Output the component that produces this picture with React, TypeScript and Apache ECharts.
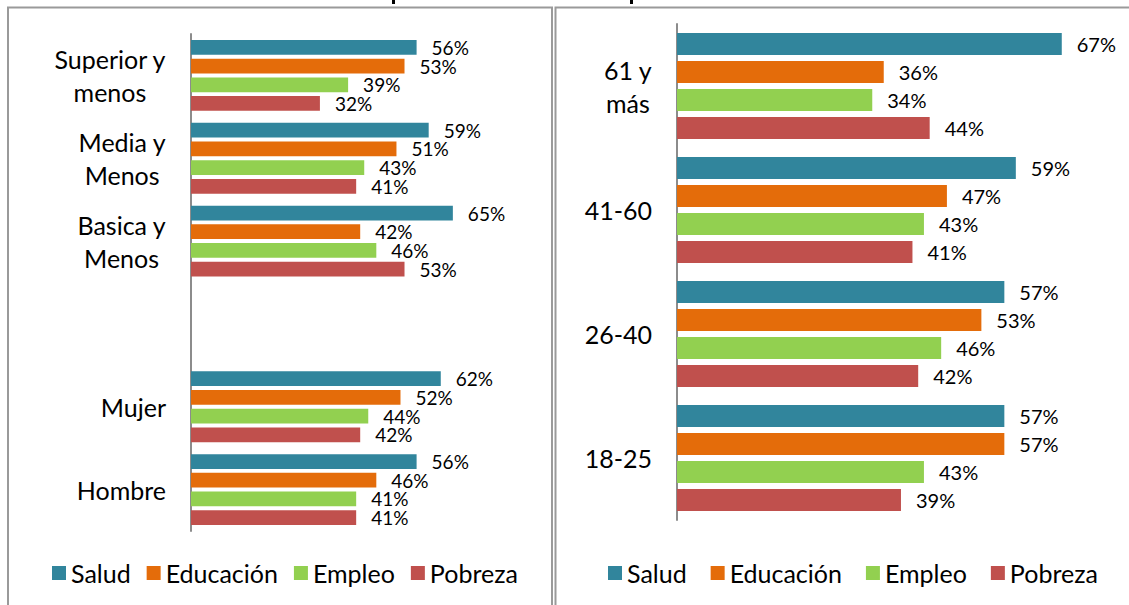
import React, { useEffect, useRef } from "react";
import * as echarts from "echarts";

const seriesNames = ["Salud", "Educación", "Empleo", "Pobreza"];
const colors = ["#31859C", "#E46C0A", "#92D050", "#C0504D"];

const leftCategories = ["Superior y\nmenos", "Media y\nMenos", "Basica y\nMenos", "", "Mujer", "Hombre"];
const leftSalud = [56, 59, 65, null, 62, 56];
const leftEducacion = [53, 51, 42, null, 52, 46];
const leftEmpleo = [39, 43, 46, null, 44, 41];
const leftPobreza = [32, 41, 53, null, 42, 41];

const rightCategories = ["61 y\nmás", "41-60", "26-40", "18-25"];
const rightSalud = [67, 59, 57, 57];
const rightEducacion = [36, 47, 53, 57];
const rightEmpleo = [34, 43, 46, 43];
const rightPobreza = [44, 41, 42, 39];

const FONT = "Lato";

export default function App() {
  const ref = useRef<HTMLDivElement>(null);
  useEffect(() => {
    if (!ref.current) return;
    const chart = echarts.init(ref.current, undefined, { renderer: "svg" });
    const leftData = [leftSalud, leftEducacion, leftEmpleo, leftPobreza];
    const rightData = [rightSalud, rightEducacion, rightEmpleo, rightPobreza];

    const catLabel = {
      color: "#000",
      fontFamily: FONT,
      fontSize: 25,
      margin: 25,
      formatter: (v: string) =>
        v ? v.split("\n").map((s) => `{c|${s}}`).join("\n") : "",
      rich: {
        c: { align: "center", fontSize: 25, lineHeight: 33, fontFamily: FONT, color: "#000" },
      },
    };

    const makeSeries = (data: (number | null)[][], idx: number, size: number) =>
      data.map((d, i) => ({
        type: "bar",
        name: seriesNames[i],
        xAxisIndex: idx,
        yAxisIndex: idx,
        data: d,
        barGap: "27%",
        barCategoryGap: "14.5%",
        itemStyle: { color: colors[i] },
        label: {
          show: true,
          position: "right",
          distance: 15,
          color: "#000",
          fontFamily: FONT,
          fontSize: size,
          lineHeight: 17,
          formatter: (p: any) => `${p.value}%`,
        },
      }));

    const legendCommon = {
      data: seriesNames,
      icon: "rect",
      itemWidth: 14,
      itemHeight: 14,
      top: 555,
      textStyle: { color: "#000", fontFamily: FONT, fontSize: 25, lineHeight: 26 },
    };

    chart.setOption({
      animation: false,
      color: colors,
      graphic: [
        { type: "rect", shape: { x: 8, y: 7.5, width: 544, height: 700 }, style: { fill: "none", stroke: "#9a9a9a", lineWidth: 2 } },
        { type: "rect", shape: { x: 555.5, y: 7.5, width: 700, height: 700 }, style: { fill: "none", stroke: "#9a9a9a", lineWidth: 2 } },
        { type: "rect", shape: { x: 392, y: 0, width: 3, height: 4 }, style: { fill: "#000" } },
        { type: "rect", shape: { x: 630, y: 0, width: 3, height: 4 }, style: { fill: "#000" } },
      ],
      legend: [
        { ...legendCommon, left: 47, itemGap: 16 },
        { ...legendCommon, left: 603, itemGap: 24 },
      ],
      grid: [
        { left: 191, top: 34, width: 282, height: 497 },
        { left: 677, top: 24, width: 402, height: 496 },
      ],
      xAxis: [
        { type: "value", gridIndex: 0, min: 0, max: 70, show: false },
        { type: "value", gridIndex: 1, min: 0, max: 70, show: false },
      ],
      yAxis: [
        {
          type: "category",
          gridIndex: 0,
          inverse: true,
          data: leftCategories,
          axisLine: { show: true, lineStyle: { color: "#8c8c8c", width: 2 } },
          axisTick: { show: false },
          axisLabel: catLabel,
        },
        {
          type: "category",
          gridIndex: 1,
          inverse: true,
          data: rightCategories,
          axisLine: { show: true, lineStyle: { color: "#8c8c8c", width: 2 } },
          axisTick: { show: false },
          axisLabel: catLabel,
        },
      ],
      series: [...makeSeries(leftData, 0, 19), ...makeSeries(rightData, 1, 20)],
    });
    return () => chart.dispose();
  }, []);
  return (
    <div
      ref={ref}
      style={{ position: "absolute", left: 0, top: 0, width: 1129, height: 605, background: "#fff" }}
    />
  );
}
